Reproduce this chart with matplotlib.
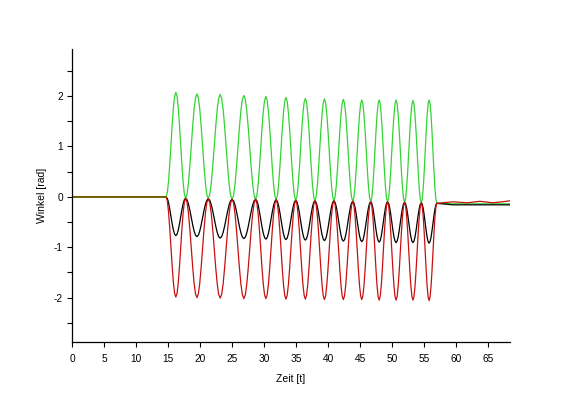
import matplotlib
matplotlib.use('Agg')
import matplotlib.pyplot as plt

# ---- data ----
# flat part before the excitation
t_pre = [0.0, 14.69]
y_pre = [0.0, 0.0]

# cycle boundaries (times where green/red/black meet near zero)
cycle_bounds = [14.69, 17.74, 21.28, 25.0, 28.67, 31.88, 34.94, 37.94,
                40.9, 43.85, 46.65, 49.28, 51.94, 54.55, 56.98]
bound_level = [0.0, -0.03, -0.04, -0.05, -0.05, -0.06, -0.07, -0.08,
               -0.08, -0.09, -0.10, -0.10, -0.11, -0.12, -0.13]
green_peak = [2.07, 2.04, 2.03, 2.01, 1.99, 1.97, 1.95, 1.94, 1.93,
              1.92, 1.92, 1.92, 1.91, 1.92]
red_trough = [-1.99, -2.0, -2.01, -2.02, -2.02, -2.03, -2.03, -2.04,
              -2.04, -2.04, -2.05, -2.05, -2.05, -2.06]
black_trough = [-0.77, -0.79, -0.82, -0.83, -0.84, -0.85, -0.86, -0.87,
                -0.88, -0.89, -0.90, -0.91, -0.91, -0.92]
# normalised shape of one swing
profile = [0.0, 0.038, 0.146, 0.309, 0.5, 0.691, 0.854, 0.962, 1.0,
           0.962, 0.854, 0.691, 0.5, 0.309, 0.146, 0.038, 0.0]

# settled part after the excitation
t_post = [56.98, 59.5, 61.7, 63.7, 65.7, 67.2, 68.4]
green_post = [-0.13, -0.14, -0.14, -0.14, -0.14, -0.14, -0.14]
black_post = [-0.13, -0.16, -0.16, -0.16, -0.16, -0.16, -0.16]
red_post = [-0.13, -0.10, -0.12, -0.09, -0.12, -0.10, -0.08]

x_ticks = list(range(0, 70, 5))
y_ticks = [-2, -1, 0, 1, 2]
y_minor = [-2.5, -1.5, -0.5, 0.5, 1.5, 2.5]


def build(extrema, post):
    ts = [t_pre[0]]
    ys = [y_pre[0]]
    n = len(profile) - 1
    for i, ext in enumerate(extrema):
        t0, t1 = cycle_bounds[i], cycle_bounds[i + 1]
        l0, l1 = bound_level[i], bound_level[i + 1]
        for k in range(n):
            s = k / n
            base = l0 + (l1 - l0) * s
            ts.append(t0 + (t1 - t0) * s)
            ys.append(base + (ext - base) * profile[k])
    ts += t_post
    ys += post
    return ts, ys


fig = plt.figure(figsize=(5.84, 3.94), dpi=100)
ax = fig.add_axes([72 / 584, 1 - 342 / 394, (510 - 72) / 584, (342 - 49) / 394])

tg, yg = build(green_peak, green_post)
tr, yr = build(red_trough, red_post)
tb, yb = build(black_trough, black_post)

ax.plot(tg, yg, color='#33d433', lw=0.9)
ax.plot(tb, yb, color='black', lw=0.9)
ax.plot(tr, yr, color='#c81010', lw=0.9)
ax.plot(t_pre, y_pre, color='#6e6a00', lw=1.2)

ax.set_xlim(0, 68.4)
ax.set_ylim(-2.88, 2.93)

font = ['Liberation Sans', 'DejaVu Sans']
ax.set_xticks(x_ticks)
ax.set_xticklabels([str(v) for v in x_ticks], family=font, fontsize=7.3)
ax.set_yticks(y_ticks)
ax.set_yticklabels([str(v) for v in y_ticks], family=font, fontsize=7.3)
ax.set_yticks(y_minor, minor=True)

ax.tick_params(axis='both', which='both', direction='out', length=3.5,
               width=0.8, color='black')
ax.tick_params(axis='x', pad=5)
ax.tick_params(axis='y', pad=3)

for side in ('top', 'right'):
    ax.spines[side].set_visible(False)
for side in ('left', 'bottom'):
    ax.spines[side].set_linewidth(0.9)

ax.set_xlabel('Zeit [t]', family=font, fontsize=7.5, labelpad=7)
ax.set_ylabel('Winkel [rad]', family=font, fontsize=7.5, labelpad=5)

fig.savefig('out.png', dpi=100)
